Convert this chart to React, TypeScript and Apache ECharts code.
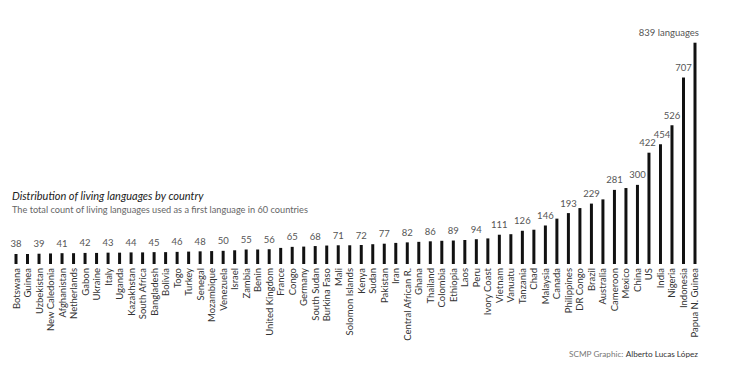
import React, { useEffect, useRef } from "react";
import * as echarts from "echarts";

const countries = [
  "Botswana", "Guinea", "Uzbekistan", "New Caledonia", "Afghanistan", "Netherlands",
  "Gabon", "Ukraine", "Italy", "Uganda", "Kazakhstan", "South Africa",
  "Bangladesh", "Bolivia", "Togo", "Turkey", "Senegal", "Mozambique",
  "Venezuela", "Israel", "Zambia", "Benin", "United Kingdom", "France",
  "Congo", "Germany", "South Sudan", "Burkina Faso", "Mali", "Solomon Islands",
  "Kenya", "Sudan", "Pakistan", "Iran", "Central African R.", "Ghana",
  "Thailand", "Colombia", "Ethiopia", "Laos", "Peru", "Ivory Coast",
  "Vietnam", "Vanuatu", "Tanzania", "Chad", "Malaysia", "Canada",
  "Philippines", "DR Congo", "Brazil", "Australia", "Cameroon", "Mexico",
  "China", "US", "India", "Nigeria", "Indonesia", "Papua N. Guinea",
];

const languages = [
  38, 38, 39, 40, 41, 41,
  42, 42, 43, 43, 44, 44,
  45, 45, 46, 47, 48, 49,
  50, 52, 55, 55, 56, 61,
  65, 66, 68, 70, 71, 71,
  72, 75, 77, 80, 82, 84,
  86, 88, 89, 91, 94, 97,
  111, 113, 126, 130, 146, 172,
  193, 212, 229, 245, 281, 288,
  300, 422, 454, 526, 707, 839,
];

const labeledCountries = [
  "Botswana", "Uzbekistan", "Afghanistan", "Gabon", "Italy", "Kazakhstan",
  "Bangladesh", "Togo", "Senegal", "Venezuela", "Zambia", "United Kingdom",
  "Congo", "South Sudan", "Mali", "Kenya", "Pakistan", "Central African R.",
  "Thailand", "Ethiopia", "Peru", "Vietnam", "Tanzania", "Malaysia",
  "Philippines", "Brazil", "Cameroon", "China", "US", "India",
  "Nigeria", "Indonesia", "Papua N. Guinea",
];

const titleText = "Distribution of living languages by country";
const subtitleText = "The total count of living languages used as a first language in 60 countries";

export default function App() {
  const ref = useRef<HTMLDivElement>(null);
  useEffect(() => {
    if (!ref.current) return;
    const chart = echarts.init(ref.current, null, { renderer: "svg" });
    const last = countries.length - 1;
    const data = languages.map((v, i) => {
      const show = labeledCountries.includes(countries[i]);
      let offset: number[] = [0, 0];
      if (countries[i] === "US") offset = [-1.5, 0];
      if (countries[i] === "India") offset = [1.5, 0];
      if (i === last) offset = [4, 0];
      return {
        value: v,
        label: {
          show,
          offset,
          align: i === last ? "right" : "center",
          formatter: i === last ? `${v} languages` : `${v}`,
        },
      };
    });
    chart.setOption({
      animation: false,
      textStyle: { fontFamily: "Lato" },
      grid: { left: 10.25, right: 29.25, top: 42.7, bottom: 101 },
      xAxis: {
        type: "category",
        data: countries,
        axisLine: { show: false },
        axisTick: { show: false },
        axisLabel: {
          interval: 0,
          rotate: 90,
          margin: 4,
          fontSize: 9.5,
          color: "#333",
          fontFamily: "Lato",
        },
      },
      yAxis: {
        type: "value",
        min: 0,
        max: 839,
        show: false,
        splitLine: { show: false },
      },
      series: [
        {
          type: "bar",
          data,
          barWidth: 3,
          itemStyle: { color: "#111" },
          label: {
            position: "top",
            distance: 5,
            color: "#555",
            fontSize: 9.5,
            fontFamily: "Lato",
          },
        },
      ],
      graphic: [
        {
          type: "text",
          left: 12,
          top: 190,
          style: {
            text: titleText,
            fontSize: 11,
            fontStyle: "italic",
            fontFamily: "Lato",
            fill: "#222",
          },
        },
        {
          type: "text",
          left: 12,
          top: 205,
          style: {
            text: subtitleText,
            fontSize: 9.2,
            fontFamily: "Lato",
            fill: "#666",
          },
        },
        {
          type: "text",
          right: 32,
          top: 350,
          style: {
            rich: {
              a: { fontSize: 8.2, fill: "#777", fontFamily: "Lato" },
              b: { fontSize: 8.2, fill: "#333", fontFamily: "Lato" },
            },
            text: "{a|SCMP Graphic: }{b|Alberto Lucas López}",
          },
        },
      ],
    });
    return () => chart.dispose();
  }, []);
  return (
    <div
      ref={ref}
      style={{ position: "fixed", left: 0, top: 0, width: 730, height: 365, background: "#fff" }}
    />
  );
}
